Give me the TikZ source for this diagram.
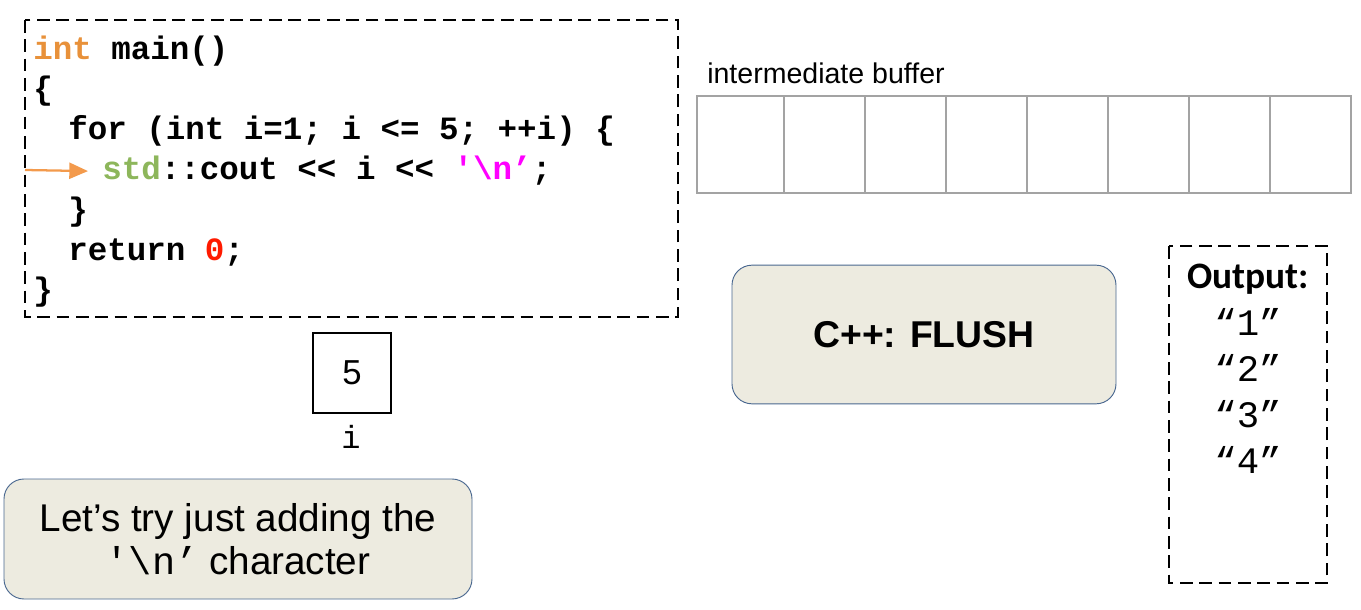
\documentclass[tikz,border=0pt]{standalone}
\usepackage{fontspec}
\setmainfont{Liberation Sans}
\setmonofont{Liberation Mono}
\newfontfamily\calfont{Carlito}
\usetikzlibrary{arrows.meta}

\definecolor{kworange}{HTML}{E8913A}
\definecolor{pcorange}{HTML}{F39A4C}
\definecolor{stdgreen}{HTML}{8DB65B}
\definecolor{charpink}{HTML}{FF00FF}
\definecolor{zerored}{HTML}{FF1A00}
\definecolor{bufgrey}{HTML}{A3A3A3}
\definecolor{notefill}{HTML}{EDEBE0}
\definecolor{noteline}{HTML}{4A6890}

\tikzset{
  dashbox/.style={draw,line width=2pt,dash pattern=on 9.5pt off 5pt},
  codeline/.style={anchor=base west,inner sep=0pt,font=\ttfamily\bfseries\fontsize{24.4}{29}\selectfont},
  notebox/.style={draw=noteline,line width=0.7pt,fill=notefill,rounded corners=15pt},
  outline/.style={anchor=base,inner sep=0pt,font=\ttfamily\fontsize{28}{32}\selectfont}
}

\begin{document}
\begin{tikzpicture}[x=0.75pt,y=-0.75pt]
  \useasboundingbox (0,0) rectangle (1361,610);

  % code
  \draw[dashbox] (25,20) rectangle (678,317);
  \node[codeline] (line1) at (33,60) {\textcolor{kworange}{int} main()};
  \node[codeline] (line2) at (33,100) {\{};
  \node[codeline] (line3) at (68,140) {for (int i=1; i <= 5; ++i) \{};
  \node[codeline] (line4) at (102,180) {\textcolor{stdgreen}{std}::cout << i << \textcolor{charpink}{'\textbackslash n’};};
  \node[codeline] (line5) at (68,220) {\}};
  \node[codeline] (line6) at (68,260) {return \textcolor{zerored}{0};};
  \node[codeline] (line7) at (33,300) {\}};
  \coordinate (pc) at (25,170);
  \draw[pcorange,line width=1.7pt,-{Triangle[length=14pt,width=12pt]}] (pc) -- ([xshift=-10.5pt]line4.west);

  % buffer
  \node[anchor=base west,inner sep=0pt,font=\fontsize{21.4}{25}\selectfont] (buflabel) at (707,84) {intermediate buffer};
  \foreach \a/\b in {697/784,784/865,865/946,946/1027,1027/1108,1108/1189,1189/1270,1270/1351}
    \draw[bufgrey,line width=1.8pt] (\a,96) rectangle (\b,193);

  % variable i
  \node[draw,line width=1.6pt,minimum width=58.5pt,minimum height=60pt,font=\fontsize{26}{30}\selectfont] (ivar) at (352,373) {5};
  \node[inner sep=0pt,font=\ttfamily\fontsize{24}{28}\selectfont] (iname) at (351,437) {i};

  % flush
  \node[notebox,minimum width=288pt,minimum height=104pt,font=\bfseries\fontsize{28}{32}\selectfont] (flush) at (924,334.5) {C++: FLUSH};

  % output
  \draw[dashbox] (1169,246) rectangle (1327,583);
  \node[anchor=base,inner sep=0pt,font=\calfont\bfseries\fontsize{28}{32}\selectfont] (outtitle) at (1248,288) {Output:};
  \node[outline] (out1) at (1248,335) {“1”};
  \node[outline] (out2) at (1248,381) {“2”};
  \node[outline] (out3) at (1248,427) {“3”};
  \node[outline] (out4) at (1248,473) {“4”};

  % note
  \node[notebox,minimum width=351pt,minimum height=90pt,align=center,font=\fontsize{29}{32.5}\selectfont] (note) at (238,539)
    {Let’s try just adding the\\{\ttfamily '\textbackslash n’} character};
\end{tikzpicture}
\end{document}
